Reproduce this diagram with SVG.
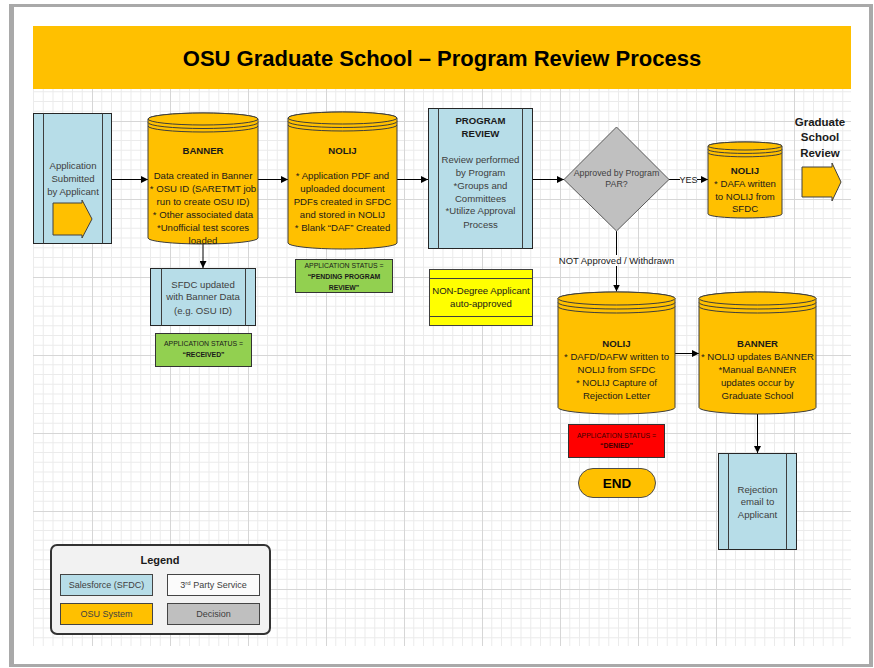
<svg xmlns="http://www.w3.org/2000/svg" width="874" height="668" viewBox="0 0 874 668">
  <defs>
    <pattern id="grid" patternUnits="userSpaceOnUse" x="14" y="43" width="78" height="78">
      <path d="M9.75,0V78M19.5,0V78M29.25,0V78M39,0V78M48.75,0V78M58.5,0V78M68.25,0V78M0,9.75H78M0,19.5H78M0,29.25H78M0,39H78M0,48.75H78M0,58.5H78M0,68.25H78" stroke="#ebebeb" stroke-width="1" fill="none"/>
      <path d="M0.5,0V78M0,0.5H78" stroke="#d6d6d6" stroke-width="1" fill="none"/>
    </pattern>
    <marker id="ah" viewBox="0 0 8 8" refX="8" refY="4" markerWidth="7" markerHeight="7" markerUnits="userSpaceOnUse" orient="auto">
      <path d="M0,0L8,4L0,8z" fill="#000"/>
    </marker>
  </defs>
  <style>
    text{font-family:"Liberation Sans",Arial,sans-serif;font-size:9.6px;text-anchor:middle;fill:#1a1a1a}
    .b{font-weight:bold}
    .g{fill:#404040}
    .st{font-size:6.9px}
    .blue{fill:#b7dde8;stroke:#262626;stroke-width:1}
    .cyl{fill:#ffc000;stroke:#3d3d3d;stroke-width:1}
    .cl{fill:none;stroke:#3d3d3d;stroke-width:1}
    .conn{stroke:#000;stroke-width:1;fill:none}
    .arr{marker-end:url(#ah)}
  </style>

  <!-- page -->
  <rect x="0" y="0" width="874" height="668" fill="#ffffff"/>
  <rect x="9" y="4" width="864" height="663" fill="#a9a9a9"/>
  <rect x="14" y="7" width="855" height="657" fill="#ffffff"/>
  <rect x="33" y="89" width="818" height="557" fill="url(#grid)"/>

  <!-- title band -->
  <g id="title">
    <rect x="33" y="26" width="818" height="63" fill="#ffc000"/>
    <text x="442" y="65.5" class="b" style="font-size:22px;fill:#000">OSU Graduate School – Program Review Process</text>
  </g>

  <!-- connectors -->
  <g id="connectors">
    <path class="conn arr" d="M112,179.5H148"/>
    <path class="conn arr" d="M203,244V268"/>
    <path class="conn arr" d="M258,179.5H288"/>
    <path class="conn arr" d="M397,179.5H428"/>
    <path class="conn arr" d="M533,179.5H564"/>
    <path class="conn" d="M669,179.5H680"/>
    <path class="conn arr" d="M697,179.5H708"/>
    <text x="688.5" y="182.7" style="font-size:9px">YES</text>
    <path class="conn" d="M616.5,231V255"/>
    <path class="conn arr" d="M616.5,266V291.5"/>
    <text x="616.5" y="264" style="font-size:9.5px">NOT Approved / Withdrawn</text>
    <path class="conn arr" d="M675,353.5H699"/>
    <path class="conn arr" d="M757.5,414V453"/>
  </g>

  <!-- Application submitted -->
  <g id="app-submitted">
    <rect class="blue" x="33.5" y="113.5" width="78" height="130"/>
    <path class="cl" d="M43.5,113.5V243.5M102.5,113.5V243.5" stroke="#262626"/>
    <text class="g" x="73" y="169">Application</text>
    <text class="g" x="73" y="182">Submitted</text>
    <text class="g" x="73" y="195">by Applicant</text>
    <polygon points="53,203 82,203 82,200 92,219 82,238 82,235 53,235" fill="#ffc000" stroke="#404040" stroke-width="1"/>
  </g>

  <!-- BANNER (top) -->
  <g id="banner-1">
    <path class="cyl" d="M148,119V238A55,6 0 0 0 258,238V119A55,6 0 0 0 148,119Z"/>
    <ellipse class="cyl" cx="203" cy="119" rx="55" ry="6"/>
    <path class="cl" d="M148,122.5A55,6 0 0 0 258,122.5M148,126A55,6 0 0 0 258,126"/>
    <text class="b" x="203" y="153.5">BANNER</text>
    <text x="203" y="179">Data created in Banner</text>
    <text x="203" y="192">* OSU ID (SARETMT job</text>
    <text x="203" y="204.5">run to create OSU ID)</text>
    <text x="203" y="217.5">* Other associated data</text>
    <text x="203" y="230.5">*Unofficial test scores</text>
    <text x="203" y="243.5">loaded</text>
  </g>

  <!-- SFDC updated -->
  <g id="sfdc-updated">
    <rect class="blue" x="150.5" y="268.5" width="105" height="57"/>
    <path class="cl" d="M161.5,268.5V325.5M245.5,268.5V325.5" stroke="#262626"/>
    <text class="g" x="203" y="287.5">SFDC updated</text>
    <text class="g" x="203" y="300">with Banner Data</text>
    <text class="g" x="203" y="313.5">(e.g. OSU ID)</text>
  </g>

  <!-- status received -->
  <g id="status-received">
    <rect x="155.5" y="333.5" width="96" height="33" fill="#92d050" stroke="#333" stroke-width="1"/>
    <text class="st" x="203.5" y="346">APPLICATION STATUS =</text>
    <text class="st b" x="203.5" y="357">“RECEIVED”</text>
  </g>

  <!-- NOLIJ (documents) -->
  <g id="nolij-1">
    <path class="cyl" d="M288,118V243A54.5,6 0 0 0 397,243V118A54.5,6 0 0 0 288,118Z"/>
    <ellipse class="cyl" cx="342.5" cy="118" rx="54.5" ry="6"/>
    <path class="cl" d="M288,121.5A54.5,6 0 0 0 397,121.5M288,125A54.5,6 0 0 0 397,125"/>
    <text class="b" x="342.5" y="153.5">NOLIJ</text>
    <text x="342.5" y="179">* Application PDF and</text>
    <text x="342.5" y="192">uploaded document</text>
    <text x="342.5" y="204.5">PDFs created in SFDC</text>
    <text x="342.5" y="217.5">and stored in NOLIJ</text>
    <text x="342.5" y="230.5">* Blank “DAF” Created</text>
  </g>

  <!-- status pending -->
  <g id="status-pending">
    <rect x="295.5" y="259.5" width="97" height="33" fill="#92d050" stroke="#333" stroke-width="1"/>
    <text class="st" x="344" y="267.8">APPLICATION STATUS =</text>
    <text class="st b" x="344" y="278.8">“PENDING PROGRAM</text>
    <text class="st b" x="344" y="289.6">REVIEW”</text>
  </g>

  <!-- Program review -->
  <g id="program-review">
    <rect class="blue" x="428.5" y="108.5" width="104" height="140"/>
    <path class="cl" d="M438.5,108.5V248.5M522.5,108.5V248.5" stroke="#262626"/>
    <text class="b" x="480.5" y="124">PROGRAM</text>
    <text class="b" x="480.5" y="137">REVIEW</text>
    <text class="g" x="480.5" y="163">Review performed</text>
    <text class="g" x="480.5" y="175.5">by Program</text>
    <text class="g" x="480.5" y="188.5">*Groups and</text>
    <text class="g" x="480.5" y="201.5">Committees</text>
    <text class="g" x="480.5" y="214">*Utilize Approval</text>
    <text class="g" x="480.5" y="227.5">Process</text>
  </g>

  <!-- Non-degree -->
  <g id="non-degree">
    <rect x="429.5" y="269.5" width="103" height="56" fill="#ffff00" stroke="#404040" stroke-width="1"/>
    <path d="M429.5,278.5H532.5M429.5,316.5H532.5" stroke="#404040" stroke-width="1"/>
    <text x="481" y="294">NON-Degree Applicant</text>
    <text x="481" y="306.5">auto-approved</text>
  </g>

  <!-- Decision -->
  <g id="decision">
    <polygon points="616.5,127 669,179.5 616.5,231 564,179.5" fill="#c0c0c0" stroke="#595959" stroke-width="1"/>
    <text class="g" x="616.5" y="176" style="font-size:8.8px">Approved by Program</text>
    <text class="g" x="616.5" y="187.2" style="font-size:8.8px">PAR?</text>
  </g>

  <!-- NOLIJ (DAFA) -->
  <g id="nolij-dafa">
    <path class="cyl" d="M708,146V214A37,4 0 0 0 782,214V146A37,4 0 0 0 708,146Z"/>
    <ellipse class="cyl" cx="745" cy="146" rx="37" ry="4"/>
    <path class="cl" d="M708,149.4A37,4 0 0 0 782,149.4M708,152.8A37,4 0 0 0 782,152.8"/>
    <text class="b" x="745" y="174">NOLIJ</text>
    <text x="745" y="186.5">* DAFA written</text>
    <text x="745" y="199.5">to NOLIJ from</text>
    <text x="745" y="212">SFDC</text>
  </g>

  <!-- Graduate school review -->
  <g id="grad-review">
    <text class="b" x="820" y="126" style="font-size:11.5px">Graduate</text>
    <text class="b" x="820" y="141.3" style="font-size:11.5px">School</text>
    <text class="b" x="820" y="156.7" style="font-size:11.5px">Review</text>
    <polygon points="802,167 832,167 832,163 841,182 832,201 832,197 802,197" fill="#ffc000" stroke="#404040" stroke-width="1"/>
  </g>

  <!-- NOLIJ (denied) -->
  <g id="nolij-2">
    <path class="cyl" d="M558,298.5V407.5A58.5,6.5 0 0 0 675,407.5V298.5A58.5,6.5 0 0 0 558,298.5Z"/>
    <ellipse class="cyl" cx="616.5" cy="298.5" rx="58.5" ry="6.5"/>
    <path class="cl" d="M558,302.5A58.5,6.5 0 0 0 675,302.5M558,306.5A58.5,6.5 0 0 0 675,306.5"/>
    <text class="b" x="616.5" y="347">NOLIJ</text>
    <text x="616.5" y="360">* DAFD/DAFW written to</text>
    <text x="616.5" y="373">NOLIJ from SFDC</text>
    <text x="616.5" y="386">* NOLIJ Capture of</text>
    <text x="616.5" y="399">Rejection Letter</text>
  </g>

  <!-- BANNER (denied) -->
  <g id="banner-2">
    <path class="cyl" d="M699,298.5V407.5A58.5,6.5 0 0 0 816,407.5V298.5A58.5,6.5 0 0 0 699,298.5Z"/>
    <ellipse class="cyl" cx="757.5" cy="298.5" rx="58.5" ry="6.5"/>
    <path class="cl" d="M699,302.5A58.5,6.5 0 0 0 816,302.5M699,306.5A58.5,6.5 0 0 0 816,306.5"/>
    <text class="b" x="757.5" y="347">BANNER</text>
    <text x="757.5" y="360">* NOLIJ updates BANNER</text>
    <text x="757.5" y="373">*Manual BANNER</text>
    <text x="757.5" y="386">updates occur by</text>
    <text x="757.5" y="399">Graduate School</text>
  </g>

  <!-- status denied -->
  <g id="status-denied">
    <rect x="568.5" y="424.5" width="96" height="33" fill="#ff0000" stroke="#333" stroke-width="1"/>
    <text class="st" x="616.5" y="437.5" style="fill:#3a0000">APPLICATION STATUS =</text>
    <text class="st b" x="616.5" y="448" style="fill:#3a0000">“DENIED”</text>
  </g>

  <!-- end -->
  <g id="end">
    <rect x="578.5" y="468.5" width="77" height="29" rx="14.5" fill="#ffc000" stroke="#4d4d4d" stroke-width="1"/>
    <text class="b" x="617" y="487.5" style="font-size:13.5px;fill:#000">END</text>
  </g>

  <!-- Rejection email -->
  <g id="rejection-email">
    <rect class="blue" x="718.5" y="453.5" width="78" height="96"/>
    <path class="cl" d="M728.5,453.5V549.5M786.5,453.5V549.5" stroke="#262626"/>
    <text class="g" x="757.5" y="492.5">Rejection</text>
    <text class="g" x="757.5" y="505">email to</text>
    <text class="g" x="757.5" y="518">Applicant</text>
  </g>

  <!-- Legend -->
  <g id="legend">
    <rect x="51" y="545" width="219" height="89" rx="6" fill="#f2f2f2" stroke="#333" stroke-width="2"/>
    <text class="b" x="160" y="564" style="font-size:11px">Legend</text>
    <rect x="60.5" y="574.5" width="92" height="21" fill="#b7dde8" stroke="#444" stroke-width="1"/>
    <text class="g" x="106.5" y="588" style="font-size:9px">Salesforce (SFDC)</text>
    <rect x="167.5" y="574.5" width="92" height="21" fill="#fbfbfb" stroke="#444" stroke-width="1"/>
    <text class="g" x="213.5" y="588" style="font-size:9px">3<tspan style="font-size:6px" dy="-3.5">rd</tspan><tspan dy="3.5"> Party Service</tspan></text>
    <rect x="60.5" y="603.5" width="92" height="21" fill="#ffc000" stroke="#444" stroke-width="1"/>
    <text class="g" x="106.5" y="617" style="font-size:9px">OSU System</text>
    <rect x="167.5" y="603.5" width="92" height="21" fill="#bfbfbf" stroke="#444" stroke-width="1"/>
    <text class="g" x="213.5" y="617" style="font-size:9px">Decision</text>
  </g>
</svg>
